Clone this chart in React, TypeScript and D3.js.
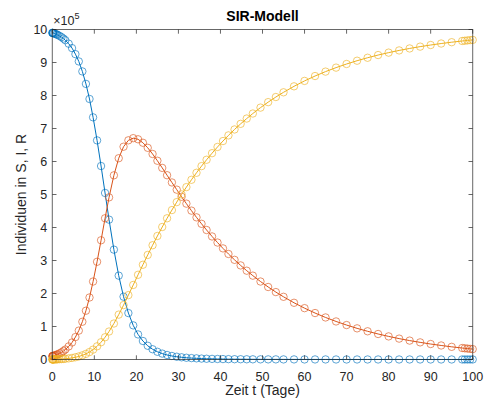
import * as d3 from 'd3';
import { useEffect, useRef } from 'react';

// time points (days) of the solver output
const tDays = [
  0, 0.06, 0.12, 0.18, 0.24, 0.5, 0.76, 1.02, 1.28, 1.735, 2.19, 2.645, 3.1,
  3.9, 4.7, 5.5, 6.3, 7.15, 8.0, 8.85, 9.7, 10.65, 11.6, 12.55, 13.5,
  14.65, 15.8, 16.95, 18.1, 19.25, 20.4, 21.55, 22.7, 23.85, 25.0, 26.15, 27.3, 28.45, 29.6, 30.75, 31.9,
  33.1, 34.3, 35.5, 36.7, 38.0, 39.3, 40.6, 41.9, 43.35, 44.8, 46.25, 47.7,
  49.525, 51.35, 53.175, 55.0,
  57.5, 60, 62.5, 65, 67.5, 70, 72.5, 75, 77.5, 80, 82.5, 85, 87.5, 90, 92.5, 95, 97.5,
  98.125, 98.75, 99.375, 100,
];

// values in units of 1e5 persons
const susceptible = [
  9.9, 9.898, 9.895, 9.893, 9.89, 9.878, 9.865, 9.851, 9.836, 9.805, 9.769, 9.726, 9.676,
  9.57, 9.436, 9.253, 9.033, 8.73, 8.352, 7.895, 7.338, 6.64, 5.863, 5.047, 4.238,
  3.329, 2.541, 1.903, 1.407, 1.034, 0.76, 0.561, 0.416, 0.311, 0.234, 0.179, 0.137, 0.107, 0.084, 0.067, 0.053,
  0.043, 0.035, 0.028, 0.023, 0.019, 0.016, 0.013, 0.011, 0.009, 0.008, 0.007, 0.006,
  0.005, 0.004, 0.004, 0.003,
  0.003, 0.002, 0.002, 0.002, 0.001, 0.001, 0.001, 0.001, 0.001, 0.001, 0.001, 0.001, 0.001, 0.001, 0.001, 0.001, 0.001,
  0.001, 0.001, 0.001, 0.001,
];

const infected = [
  0.1, 0.102, 0.104, 0.107, 0.109, 0.12, 0.131, 0.144, 0.158, 0.186, 0.218, 0.256, 0.302,
  0.396, 0.516, 0.68, 0.875, 1.144, 1.478, 1.879, 2.363, 2.961, 3.613, 4.28, 4.913,
  5.581, 6.099, 6.448, 6.642, 6.707, 6.673, 6.568, 6.415, 6.228, 6.023, 5.806, 5.584, 5.365, 5.147, 4.931, 4.723,
  4.511, 4.308, 4.112, 3.924, 3.729, 3.544, 3.367, 3.198, 3.02, 2.851, 2.691, 2.541,
  2.363, 2.197, 2.043, 1.9,
  1.719, 1.556, 1.408, 1.274, 1.153, 1.044, 0.944, 0.855, 0.773, 0.7, 0.633, 0.573, 0.519, 0.469, 0.425, 0.384, 0.348,
  0.339, 0.331, 0.323, 0.315,
];

const recovered = [
  0, 0, 0, 0.001, 0.001, 0.002, 0.003, 0.005, 0.006, 0.01, 0.013, 0.018, 0.023,
  0.034, 0.048, 0.068, 0.092, 0.126, 0.17, 0.226, 0.3, 0.399, 0.524, 0.674, 0.848,
  1.09, 1.36, 1.649, 1.951, 2.259, 2.567, 2.871, 3.169, 3.462, 3.743, 4.015, 4.279, 4.528, 4.769, 5.002, 5.224,
  5.446, 5.658, 5.86, 6.053, 6.252, 6.441, 6.62, 6.791, 6.971, 7.141, 7.302, 7.454,
  7.633, 7.799, 7.954, 8.097,
  8.278, 8.442, 8.59, 8.724, 8.845, 8.955, 9.054, 9.144, 9.226, 9.299, 9.366, 9.426, 9.481, 9.53, 9.575, 9.615, 9.652,
  9.66, 9.669, 9.677, 9.685,
];

const xTicks = [0, 10, 20, 30, 40, 50, 60, 70, 80, 90, 100];
const yTicks = [0, 1, 2, 3, 4, 5, 6, 7, 8, 9, 10];
const seriesColors = ['#0072BD', '#D95319', '#EDB120'];

export default function App() {
  const ref = useRef<SVGSVGElement | null>(null);

  useEffect(() => {
    const svg = d3.select(ref.current);
    svg.selectAll('*').remove();
    const width = 485;
    const height = 399;
    const margin = { top: 29.5, right: 12.3, bottom: 39.5, left: 52.3 };
    const innerW = width - margin.left - margin.right;
    const innerH = height - margin.top - margin.bottom;
    const font = '"Liberation Sans", Arial, Helvetica, sans-serif';
    const axisColor = '#262626';

    svg.append('rect').attr('width', width).attr('height', height).attr('fill', '#fff');

    const g = svg.append('g').attr('transform', `translate(${margin.left},${margin.top})`);
    const x = d3.scaleLinear().domain([0, 100]).range([0, innerW]);
    const y = d3.scaleLinear().domain([0, 10]).range([innerH, 0]);

    // series
    const all = [susceptible, infected, recovered];
    all.forEach((vals, i) => {
      const pts = tDays.map((t, k) => [t, vals[k]] as [number, number]);
      const line = d3.line<[number, number]>().x((d) => x(d[0])).y((d) => y(d[1]));
      g.append('path')
        .attr('d', line(pts)!)
        .attr('fill', 'none')
        .attr('stroke', seriesColors[i])
        .attr('stroke-width', 1);
      g.append('g')
        .selectAll('circle')
        .data(pts)
        .enter()
        .append('circle')
        .attr('cx', (d) => x(d[0]))
        .attr('cy', (d) => y(d[1]))
        .attr('r', 3.7)
        .attr('fill', 'none')
        .attr('stroke', seriesColors[i])
        .attr('stroke-opacity', 0.85)
        .attr('stroke-width', 0.75);
    });

    // box + ticks
    const tl = 4.2;
    const axes = g.append('g').attr('stroke', axisColor).attr('stroke-opacity', 0.7).attr('stroke-width', 1);
    axes.append('rect').attr('x', 0).attr('y', 0).attr('width', innerW).attr('height', innerH).attr('fill', 'none');
    xTicks.forEach((t) => {
      axes.append('line').attr('x1', x(t)).attr('x2', x(t)).attr('y1', innerH).attr('y2', innerH - tl);
      axes.append('line').attr('x1', x(t)).attr('x2', x(t)).attr('y1', 0).attr('y2', tl);
    });
    yTicks.forEach((t) => {
      axes.append('line').attr('x1', 0).attr('x2', tl).attr('y1', y(t)).attr('y2', y(t));
      axes.append('line').attr('x1', innerW).attr('x2', innerW - tl).attr('y1', y(t)).attr('y2', y(t));
    });

    g.selectAll('text.xt')
      .data(xTicks)
      .enter()
      .append('text')
      .attr('class', 'xt')
      .attr('x', (d) => x(d))
      .attr('y', innerH + 21)
      .attr('text-anchor', 'middle')
      .attr('font-family', font)
      .attr('font-size', 12.5)
      .attr('fill', axisColor)
      .text((d) => d);

    g.selectAll('text.yt')
      .data(yTicks)
      .enter()
      .append('text')
      .attr('class', 'yt')
      .attr('x', -5)
      .attr('y', (d) => y(d) + 4.5)
      .attr('text-anchor', 'end')
      .attr('font-family', font)
      .attr('font-size', 12.5)
      .attr('fill', axisColor)
      .text((d) => d);

    // exponent
    const ex = g.append('text').attr('x', 1).attr('y', -4.5).attr('font-family', font).attr('font-size', 12.5).attr('fill', axisColor);
    ex.append('tspan').text('\u00d710');
    ex.append('tspan').attr('dy', -6).attr('font-size', 9).text('5');

    svg.append('text')
      .attr('x', margin.left + innerW / 2)
      .attr('y', 21)
      .attr('text-anchor', 'middle')
      .attr('font-family', font)
      .attr('font-size', 14)
      .attr('font-weight', 'bold')
      .attr('fill', '#000')
      .text('SIR-Modell');

    svg.append('text')
      .attr('x', margin.left + innerW / 2)
      .attr('y', 395)
      .attr('text-anchor', 'middle')
      .attr('font-family', font)
      .attr('font-size', 14)
      .attr('fill', axisColor)
      .text('Zeit t (Tage)');

    svg.append('text')
      .attr('transform', `translate(26,${margin.top + innerH / 2}) rotate(-90)`)
      .attr('text-anchor', 'middle')
      .attr('font-family', font)
      .attr('font-size', 14)
      .attr('fill', axisColor)
      .text('Individuen in S, I, R');
  }, []);

  return (
    <svg
      ref={ref}
      width={485}
      height={399}
      style={{ position: 'absolute', left: 0, top: 0 }}
      role="img"
      aria-label="SIR-Modell"
    />
  );
}
